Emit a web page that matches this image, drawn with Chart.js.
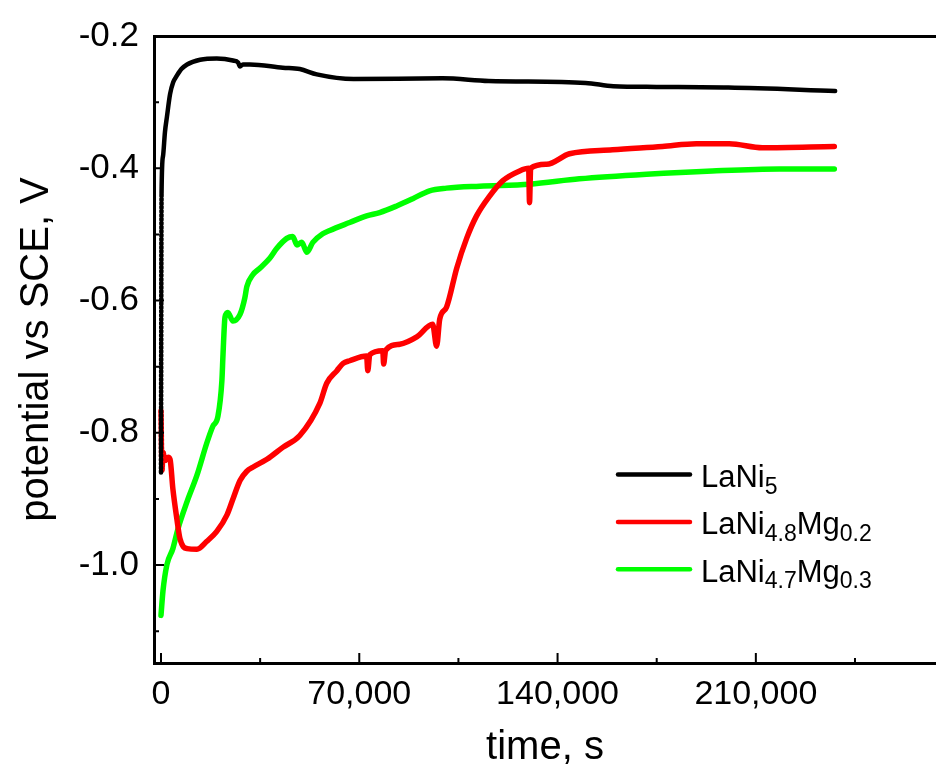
<!DOCTYPE html>
<html lang="en">
<head>
<meta charset="utf-8">
<title>potential vs time</title>
<script src="https://cdn.jsdelivr.net/npm/chart.js@4.4.1/dist/chart.umd.min.js"></script>
<style>
  html, body { margin: 0; padding: 0; background: #fff; overflow: hidden; }
  canvas { display: block; }
</style>
</head>
<body>
<canvas id="grafico" width="936" height="774"></canvas>
<script>
// séries: tempo (s) e potencial (V vs SCE)
const nomesSeries = ['LaNi5', 'LaNi4.8Mg0.2', 'LaNi4.7Mg0.3'];
const coresSeries = ['#000000', '#ff0000', '#00ff00'];

const tempoLaNi5 = [0, 200, 700, 1400, 2100, 3200, 4300, 5600, 7200, 9200, 13800, 19700, 25400, 27200, 27900, 28900,
  31400, 43000, 49000, 55000, 68000, 99400, 115700, 149900, 159700, 174900, 200300, 238000];
const potLaNi5 = [-0.86, -0.437, -0.382, -0.345, -0.322, -0.288, -0.270, -0.260, -0.250, -0.243, -0.236, -0.234, -0.237, -0.240, -0.246, -0.243,
  -0.243, -0.248, -0.250, -0.258, -0.265, -0.264, -0.268, -0.271, -0.276, -0.277, -0.278, -0.283];

const tempoMg02 = [0, 350, 700, 1400, 2500, 3200, 4200, 5600, 6700, 9200, 12700, 16200, 19700, 23300,
  25400, 27900, 30300, 32400, 37400, 43000, 49000, 56100, 58500, 62100, 64300, 66600, 72600, 73000, 73700,
  78300, 78600, 79300, 84300, 90300, 95900, 97300, 98400, 100800, 104400, 107900, 111400, 116000, 120600,
  126600, 129800, 130100, 130500, 136100, 144200, 159400, 177000, 189000, 200600, 212300, 237700];
const potMg02 = [-0.767, -0.857, -0.830, -0.842, -0.837, -0.840, -0.885, -0.930, -0.960, -0.975, -0.976, -0.964, -0.949, -0.924,
  -0.900, -0.872, -0.858, -0.852, -0.840, -0.822, -0.804, -0.755, -0.725, -0.706, -0.695, -0.691, -0.684, -0.706, -0.682,
  -0.676, -0.696, -0.675, -0.666, -0.655, -0.636, -0.669, -0.628, -0.610, -0.551, -0.506, -0.472, -0.442, -0.419,
  -0.404, -0.400, -0.452, -0.400, -0.394, -0.378, -0.372, -0.367, -0.363, -0.363, -0.369, -0.367];

const tempoMg03 = [0, 700, 2100, 4200, 6000, 9200, 12700, 16200, 18300, 20100, 21500, 21900, 22600, 23600,
  25400, 27900, 29600, 30300, 32400, 34900, 38400, 40900, 44400, 46500, 48000, 49700, 51500, 53600, 57100,
  59600, 66600, 72600, 77200, 83200, 88900, 94800, 100800, 112500, 130100, 147700, 171400, 194600, 218300, 237700];
const potMg03 = [-1.076, -1.039, -0.999, -0.975, -0.945, -0.904, -0.864, -0.815, -0.790, -0.775, -0.721, -0.681, -0.625, -0.618,
  -0.631, -0.621, -0.596, -0.579, -0.561, -0.551, -0.536, -0.521, -0.506, -0.503, -0.516, -0.512, -0.527, -0.512, -0.499,
  -0.494, -0.482, -0.472, -0.467, -0.457, -0.446, -0.434, -0.430, -0.427, -0.424, -0.416, -0.409, -0.404, -0.401, -0.401];

// eixos
const ticksX = [0, 70000, 140000, 210000];
const ticksXMenores = [35000, 105000, 175000, 245000];
const ticksY = [-0.2, -0.4, -0.6, -0.8, -1.0];
const ticksYMenores = [-0.3, -0.5, -0.7, -0.9, -1.1];
const limitesX = [-2470, 273600];
const limitesY = [-1.148, -0.2];

const FONTE = '"Liberation Sans", Arial, sans-serif';

function pontos(tempos, valores) {
  return tempos.map((t, i) => ({ x: t, y: valores[i] }));
}

// primeiro trecho (salto inicial) fica tracejado
function trechoInicial(n) {
  return { borderDash: ctx => (ctx.p0DataIndex < n ? [2, 2] : undefined) };
}

// marcas de escala para dentro da área do gráfico
const marcasInternas = {
  id: 'marcasInternas',
  afterDraw(chart) {
    const { ctx, chartArea: a, scales: { x, y } } = chart;
    ctx.save();
    ctx.strokeStyle = '#000';
    ctx.lineWidth = 2;
    ctx.beginPath();
    const marcaX = (v, tam) => {
      const p = x.getPixelForValue(v);
      ctx.moveTo(p, a.bottom);
      ctx.lineTo(p, a.bottom - tam);
    };
    const marcaY = (v, tam) => {
      const p = y.getPixelForValue(v);
      ctx.moveTo(a.left, p);
      ctx.lineTo(a.left + tam, p);
    };
    ticksX.forEach(v => marcaX(v, 10));
    ticksXMenores.forEach(v => marcaX(v, 5));
    ticksY.forEach(v => marcaY(v, 10));
    ticksYMenores.forEach(v => marcaY(v, 5));
    ctx.stroke();
    ctx.restore();
  }
};

// separa "LaNi4.8Mg0.2" em partes normais e subscritas
function partesRotulo(nome) {
  return nome.split(/(\d+(?:\.\d+)?)/)
    .map((txt, i) => ({ txt, sub: i % 2 === 1 }))
    .filter(p => p.txt !== '');
}

// legenda com subscritos
const legendaQuimica = {
  id: 'legendaQuimica',
  afterDraw(chart) {
    const { ctx } = chart;
    ctx.save();
    chart.data.datasets.forEach((ds, i) => {
      const y = 474.5 + i * 47.4;
      ctx.strokeStyle = ds.borderColor;
      ctx.lineWidth = 4.5;
      ctx.lineCap = 'round';
      ctx.beginPath();
      ctx.moveTo(618, y);
      ctx.lineTo(690, y);
      ctx.stroke();

      let x = 701;
      ctx.fillStyle = '#000';
      ctx.textBaseline = 'alphabetic';
      partesRotulo(ds.label).forEach(p => {
        ctx.font = (p.sub ? '23px ' : '31px ') + FONTE;
        ctx.fillText(p.txt, x, y + (p.sub ? 19 : 12.5));
        x += ctx.measureText(p.txt).width;
      });
    });
    ctx.restore();
  }
};

const seriesTempo = [tempoLaNi5, tempoMg02, tempoMg03];
const seriesPot = [potLaNi5, potMg02, potMg03];
const larguras = [4.5, 5.5, 5.5];
const tracejados = [1, 2, 0];

const datasets = nomesSeries.map((nome, i) => ({
  label: nome,
  data: pontos(seriesTempo[i], seriesPot[i]),
  borderColor: coresSeries[i],
  backgroundColor: coresSeries[i],
  borderWidth: larguras[i],
  borderJoinStyle: 'round',
  borderCapStyle: 'round',
  pointRadius: 0,
  cubicInterpolationMode: 'monotone',
  fill: false,
  segment: trechoInicial(tracejados[i])
}));

Chart.defaults.font.family = FONTE;
Chart.defaults.color = '#000';

const grafico = new Chart(document.getElementById('grafico').getContext('2d'), {
  type: 'line',
  data: { datasets },
  options: {
    responsive: false,
    animation: false,
    devicePixelRatio: 1,
    layout: { padding: 0 },
    plugins: {
      legend: { display: false },
      tooltip: { enabled: false }
    },
    scales: {
      x: {
        type: 'linear',
        position: 'bottom',
        min: limitesX[0],
        max: limitesX[1],
        afterBuildTicks: s => { s.ticks = ticksX.map(value => ({ value })); },
        afterFit: s => { s.height = 111; },
        grid: { display: false, drawTicks: false },
        border: { display: true, color: '#000', width: 3 },
        ticks: {
          autoSkip: false,
          maxRotation: 0,
          padding: 11,
          font: { size: 34 },
          callback: v => v.toLocaleString('en-US')
        },
        title: {
          display: true,
          text: 'time, s',
          font: { size: 40 },
          padding: { top: 0, bottom: 2 }
        }
      },
      xTopo: {
        type: 'linear',
        position: 'top',
        min: limitesX[0],
        max: limitesX[1],
        afterFit: s => { s.height = 28; },
        grid: { display: false, drawTicks: false },
        border: { display: true, color: '#000', width: 3 },
        ticks: { display: false }
      },
      y: {
        type: 'linear',
        position: 'left',
        min: limitesY[0],
        max: limitesY[1],
        afterBuildTicks: s => { s.ticks = ticksY.map(value => ({ value })); },
        afterFit: s => { s.width = 154; },
        grid: { display: false, drawTicks: false },
        border: { display: true, color: '#000', width: 3 },
        ticks: {
          autoSkip: false,
          padding: 15,
          font: { size: 35 },
          callback: v => v.toFixed(1)
        },
        title: {
          display: true,
          text: 'potential vs SCE, V',
          font: { size: 40 },
          padding: { top: 13, bottom: 0 }
        }
      }
    }
  },
  plugins: [marcasInternas, legendaQuimica]
});
</script>
</body>
</html>
